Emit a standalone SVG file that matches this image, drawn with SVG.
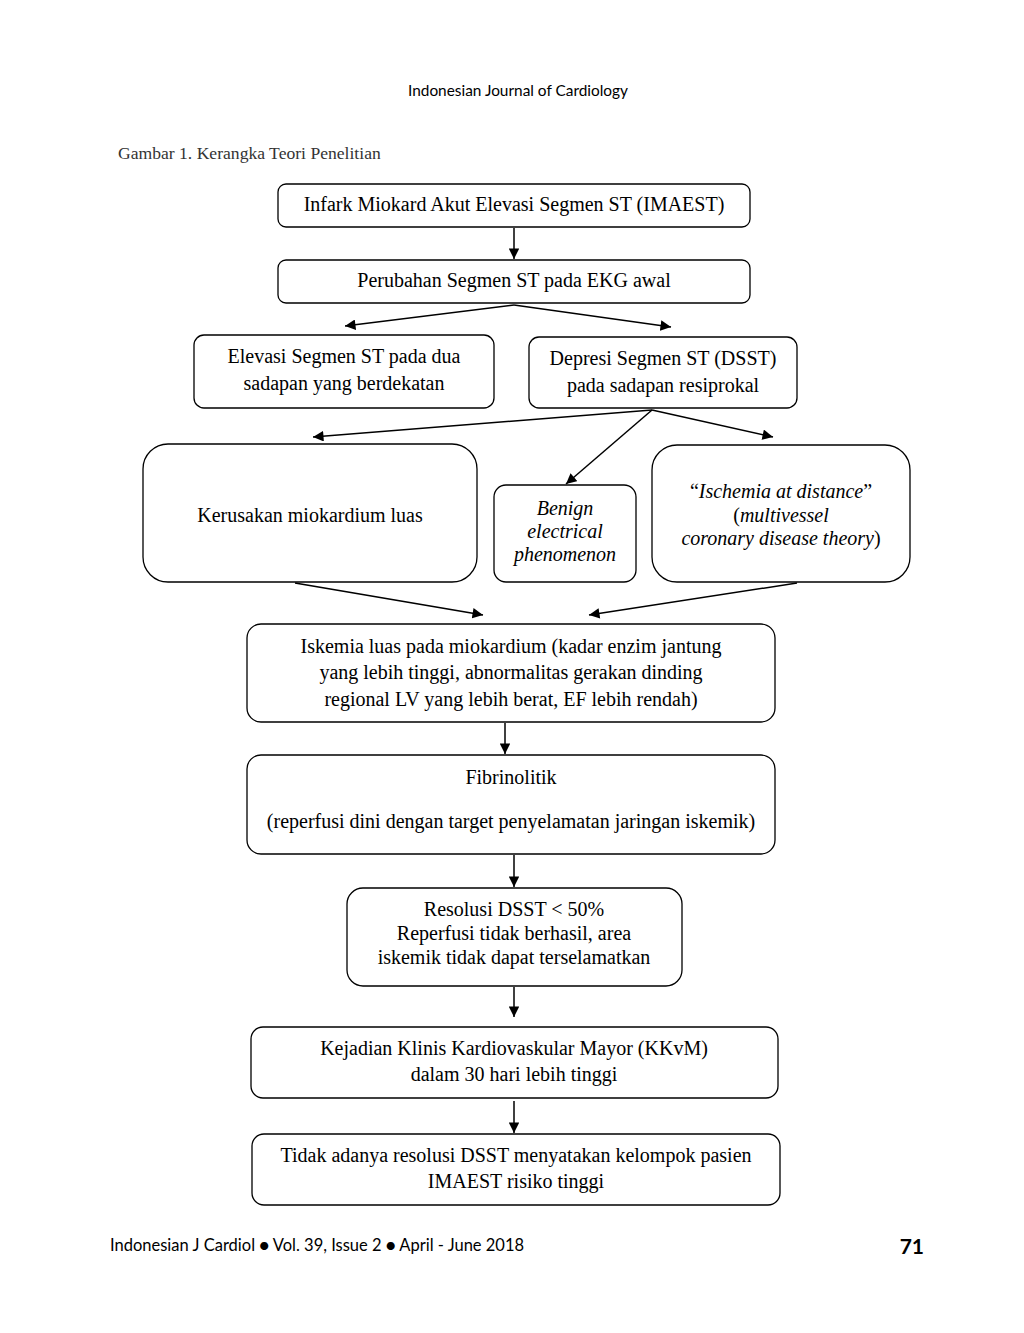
<svg xmlns="http://www.w3.org/2000/svg" width="1024" height="1333" viewBox="0 0 1024 1333">
<style>
.box{fill:#fff;stroke:#000;stroke-width:1.3}
.t{font-family:"Liberation Serif","Times New Roman",serif;font-size:20px;fill:#000;text-anchor:middle}
.i{font-style:italic}
.c{stroke:#000;stroke-width:1.5;fill:none;marker-end:url(#ah)}
.hdr{font-family:"Lato","Open Sans",sans-serif;fill:#000}
</style>
<defs>
<marker id="ah" viewBox="0 0 10 10" refX="10" refY="5" markerWidth="7.5" markerHeight="7" markerUnits="strokeWidth" orient="auto">
<path d="M0,0 L10,5 L0,10 z" fill="#000"/>
</marker>
</defs>
<rect width="1024" height="1333" fill="#fff"/>
<text class="hdr" x="518" y="96" font-size="15.4" text-anchor="middle">Indonesian Journal of Cardiology</text>
<text x="118" y="159" font-family="Liberation Serif, serif" font-size="17.6" fill="#333">Gambar 1. Kerangka Teori Penelitian</text>

<g id="connectors">
<line class="c" x1="514" y1="228" x2="514" y2="259"/>
<line class="c" x1="514" y1="305" x2="345" y2="326"/>
<line class="c" x1="514" y1="305" x2="671" y2="327"/>
<line class="c" x1="652" y1="410" x2="313" y2="437"/>
<line class="c" x1="652" y1="410" x2="566" y2="484"/>
<line class="c" x1="652" y1="410" x2="773" y2="437"/>
<line class="c" x1="295" y1="583" x2="483" y2="615"/>
<line class="c" x1="797" y1="583" x2="589" y2="615"/>
<line class="c" x1="505" y1="723" x2="505" y2="754"/>
<line class="c" x1="514" y1="855" x2="514" y2="887"/>
<line class="c" x1="514" y1="987" x2="514" y2="1017"/>
<line class="c" x1="514" y1="1101" x2="514" y2="1133"/>
</g>

<g id="n1"><rect class="box" x="278" y="184" width="472" height="43" rx="8"/>
<text class="t" x="514" y="211">Infark Miokard Akut Elevasi Segmen ST (IMAEST)</text></g>
<g id="n2"><rect class="box" x="278" y="260" width="472" height="43" rx="8"/>
<text class="t" x="514" y="287">Perubahan Segmen ST pada EKG awal</text></g>
<g id="n3"><rect class="box" x="194" y="335" width="300" height="73" rx="10"/>
<text class="t" x="344" y="363">Elevasi Segmen ST pada dua</text>
<text class="t" x="344" y="390">sadapan yang berdekatan</text></g>
<g id="n4"><rect class="box" x="529" y="337" width="268" height="71" rx="10"/>
<text class="t" x="663" y="365">Depresi Segmen ST (DSST)</text>
<text class="t" x="663" y="392">pada sadapan resiprokal</text></g>
<g id="n5"><rect class="box" x="143" y="444" width="334" height="138" rx="25"/>
<text class="t" x="310" y="522">Kerusakan miokardium luas</text></g>
<g id="n6"><rect class="box" x="494" y="485" width="142" height="97" rx="12"/>
<text class="t i" x="565" y="515">Benign</text>
<text class="t i" x="565" y="538">electrical</text>
<text class="t i" x="565" y="561">phenomenon</text></g>
<g id="n7"><rect class="box" x="652" y="445" width="258" height="137" rx="25"/>
<text class="t" x="781" y="498">“<tspan class="i">Ischemia at distance</tspan>”</text>
<text class="t" x="781" y="522">(<tspan class="i">multivessel</tspan></text>
<text class="t" x="781" y="545"><tspan class="i">coronary disease theory</tspan>)</text></g>
<g id="n8"><rect class="box" x="247" y="624" width="528" height="98" rx="14"/>
<text class="t" x="511" y="653">Iskemia luas pada miokardium (kadar enzim jantung</text>
<text class="t" x="511" y="679">yang lebih tinggi, abnormalitas gerakan dinding</text>
<text class="t" x="511" y="706">regional LV yang lebih berat, EF lebih rendah)</text></g>
<g id="n9"><rect class="box" x="247" y="755" width="528" height="99" rx="14"/>
<text class="t" x="511" y="784">Fibrinolitik</text>
<text class="t" x="511" y="828">(reperfusi dini dengan target penyelamatan jaringan iskemik)</text></g>
<g id="n10"><rect class="box" x="347" y="888" width="335" height="98" rx="16"/>
<text class="t" x="514" y="916">Resolusi DSST &lt; 50%</text>
<text class="t" x="514" y="940">Reperfusi tidak berhasil, area</text>
<text class="t" x="514" y="964">iskemik tidak dapat terselamatkan</text></g>
<g id="n11"><rect class="box" x="251" y="1027" width="527" height="71" rx="12"/>
<text class="t" x="514" y="1055">Kejadian Klinis Kardiovaskular Mayor (KKvM)</text>
<text class="t" x="514" y="1081">dalam 30 hari lebih tinggi</text></g>
<g id="n12"><rect class="box" x="252" y="1134" width="528" height="71" rx="12"/>
<text class="t" x="516" y="1162">Tidak adanya resolusi DSST menyatakan kelompok pasien</text>
<text class="t" x="516" y="1188">IMAEST risiko tinggi</text></g>

<text class="hdr" x="110" y="1251" font-size="16.5">Indonesian J Cardiol ● Vol. 39, Issue 2 ● April - June 2018</text>
<text class="hdr" x="924" y="1254" font-size="21" font-weight="bold" text-anchor="end">71</text>
</svg>
